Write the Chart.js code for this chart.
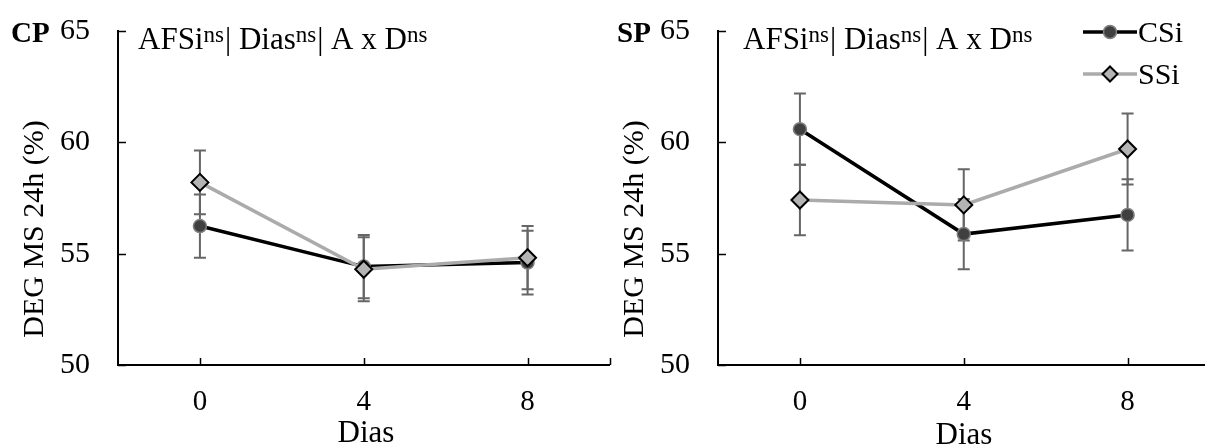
<!DOCTYPE html>
<html>
<head>
<meta charset="utf-8">
<script src="https://cdn.jsdelivr.net/npm/chart.js@4.4.1/dist/chart.umd.min.js"></script>
<style>
  html, body { margin: 0; padding: 0; background: #fff; overflow: hidden; width: 1205px; height: 445px; position: relative; }
  canvas { position: absolute; top: 0; }
  #cp { left: 0; }
  #sp { left: 600px; }
</style>
</head>
<body>
<canvas id="cp" width="620" height="445"></canvas>
<canvas id="sp" width="620" height="445"></canvas>
<script>
const dias = [0, 4, 8];
const xTicks = [0, 4, 8, 10];
const yTicks = [50, 55, 60, 65];
const seriesNames = ["CSi", "SSi"];

// CP panel
const cpCSi = [56.24, 54.42, 54.60];
const cpCSiErr = [1.42, 1.42, 1.43];
const cpSSi = [58.20, 54.30, 54.82];
const cpSSiErr = [1.43, 1.44, 1.42];

// SP panel
const spCSi = [60.59, 55.88, 56.74];
const spCSiErr = [1.60, 1.58, 1.60];
const spSSi = [57.41, 57.19, 59.70];
const spSSiErr = [1.58, 1.60, 1.59];

const titleParts = [["AFSi", false], ["ns", true], ["| Dias", false], ["ns", true], ["| A x D", false], ["ns", true]];
const yTitle = "DEG MS 24h (%)";
const xTitle = "Dias";

const SERIF = "'Liberation Serif', 'Times New Roman', serif";

function pts(vals) {
  return dias.map((d, i) => ({ x: d, y: vals[i] }));
}

// error bars, drawn under the markers
const errorBars = {
  id: "errorBars",
  beforeDatasetsDraw(chart) {
    const { ctx, scales: { x, y } } = chart;
    ctx.save();
    ctx.strokeStyle = "#666";
    ctx.lineWidth = 2;
    chart.data.datasets.forEach(ds => {
      ds.data.forEach((p, i) => {
        const e = ds.err[i];
        const px = x.getPixelForValue(p.x);
        const top = y.getPixelForValue(p.y + e);
        const bot = y.getPixelForValue(p.y - e);
        ctx.beginPath();
        ctx.moveTo(px, top); ctx.lineTo(px, bot);
        ctx.moveTo(px - 6, top); ctx.lineTo(px + 6, top);
        ctx.moveTo(px - 6, bot); ctx.lineTo(px + 6, bot);
        ctx.stroke();
      });
    });
    // inward tick marks
    ctx.strokeStyle = "#000";
    ctx.lineWidth = 1.5;
    const area = chart.chartArea;
    ctx.beginPath();
    yTicks.forEach(v => {
      const py = Math.round(y.getPixelForValue(v)) + 0.5;
      ctx.moveTo(area.left, py); ctx.lineTo(area.left + 8, py);
    });
    xTicks.forEach(v => {
      const px = Math.round(x.getPixelForValue(v)) + 0.5;
      ctx.moveTo(px, area.bottom); ctx.lineTo(px, area.bottom - 7);
    });
    ctx.stroke();
    ctx.restore();
  }
};

// panel texts and legend
const panelText = {
  id: "panelText",
  afterDraw(chart, args, opts) {
    const ctx = chart.ctx;
    ctx.save();
    ctx.fillStyle = "#000";
    ctx.textBaseline = "alphabetic";

    ctx.font = "bold 29px " + SERIF;
    ctx.textAlign = "left";
    ctx.fillText(opts.label, opts.labelX, 42);

    let tx = opts.titleX;
    titleParts.forEach(([t, sup]) => {
      ctx.font = (sup ? "23px " : "31px ") + SERIF;
      ctx.fillText(t, tx, sup ? 42 : 49);
      tx += ctx.measureText(t).width + (sup ? 1 : 0);
    });

    ctx.font = "30px " + SERIF;
    ctx.save();
    ctx.translate(43, 229);
    ctx.rotate(-Math.PI / 2);
    ctx.textAlign = "center";
    ctx.fillText(yTitle, 0, 0);
    ctx.restore();

    ctx.font = "31px " + SERIF;
    ctx.textAlign = "center";
    ctx.fillText(xTitle, opts.xTitleX, opts.xTitleY);

    if (opts.legend) {
      chart.data.datasets.slice().sort((a, b) => seriesNames.indexOf(a.label) - seriesNames.indexOf(b.label)).forEach((ds, k) => {
        const ly = 32 + k * 42;
        ctx.strokeStyle = ds.borderColor;
        ctx.lineWidth = ds.borderWidth;
        ctx.beginPath();
        ctx.moveTo(483, ly); ctx.lineTo(537, ly);
        ctx.stroke();
        ctx.fillStyle = ds.pointBackgroundColor;
        ctx.strokeStyle = ds.pointBorderColor;
        ctx.lineWidth = ds.pointBorderWidth;
        Chart.helpers.drawPoint(ctx, { pointStyle: ds.pointStyle, radius: ds.pointStyle === "circle" ? 6.5 : 7.5, borderWidth: ds.pointBorderWidth }, 510, ly);
        ctx.fillStyle = "#000";
        ctx.font = "30px " + SERIF;
        ctx.textAlign = "left";
        ctx.fillText(ds.label, 538, ly + 10);
      });
    }
    ctx.restore();
  }
};

function makeChart(id, csi, csiErr, ssi, ssiErr, textOpts) {
  return new Chart(document.getElementById(id), {
    type: "line",
    data: {
      datasets: [
        { label: seriesNames[0], data: pts(csi), err: csiErr, borderColor: "#000", borderWidth: 3.5,
          pointStyle: "circle", pointRadius: 6.5, pointBackgroundColor: "#404040", pointBorderColor: "#7f7f7f",
          pointBorderWidth: 1.5, order: 1 },
        { label: seriesNames[1], data: pts(ssi), err: ssiErr, borderColor: "#ababab", borderWidth: 3.5,
          pointStyle: "rectRot", pointRadius: 8.5, pointBackgroundColor: "#b4b4b4", pointBorderColor: "#000",
          pointBorderWidth: 2, order: 0 }
      ]
    },
    options: {
      responsive: false,
      animation: false,
      devicePixelRatio: 1,
      events: [],
      layout: { padding: { top: 31, right: 6, left: 0, bottom: 0 } },
      plugins: { legend: { display: false }, tooltip: { enabled: false }, panelText: textOpts },
      scales: {
        x: {
          type: "linear", min: -2, max: 10,
          afterBuildTicks: s => { s.ticks = xTicks.map(v => ({ value: v })); },
          afterFit: s => { s.height = 80; s.paddingLeft = 0; s.paddingRight = 0; },
          grid: { display: false, drawTicks: false },
          border: { display: true, color: "#000", width: 2 },
          ticks: { color: "#000", font: { family: SERIF, size: 29 }, padding: 20, maxRotation: 0, autoSkip: false,
            callback: v => (dias.includes(v) ? String(v) : "") }
        },
        y: {
          min: 50, max: 65,
          afterBuildTicks: s => { s.ticks = yTicks.map(v => ({ value: v })); },
          afterFit: s => { s.width = 118; s.paddingTop = 0; s.paddingBottom = 0; },
          grid: { display: false, drawTicks: false },
          border: { display: true, color: "#000", width: 2 },
          ticks: { color: "#000", font: { family: SERIF, size: 30 }, padding: 28 }
        }
      }
    },
    plugins: [errorBars, panelText]
  });
}

makeChart("cp", cpCSi, cpCSiErr, cpSSi, cpSSiErr,
  { label: "CP", labelX: 11, titleX: 138, xTitleX: 366, xTitleY: 442, legend: false });
makeChart("sp", spCSi, spCSiErr, spSSi, spSSiErr,
  { label: "SP", labelX: 17, titleX: 143, xTitleX: 364, xTitleY: 444, legend: true });
</script>
</body>
</html>
